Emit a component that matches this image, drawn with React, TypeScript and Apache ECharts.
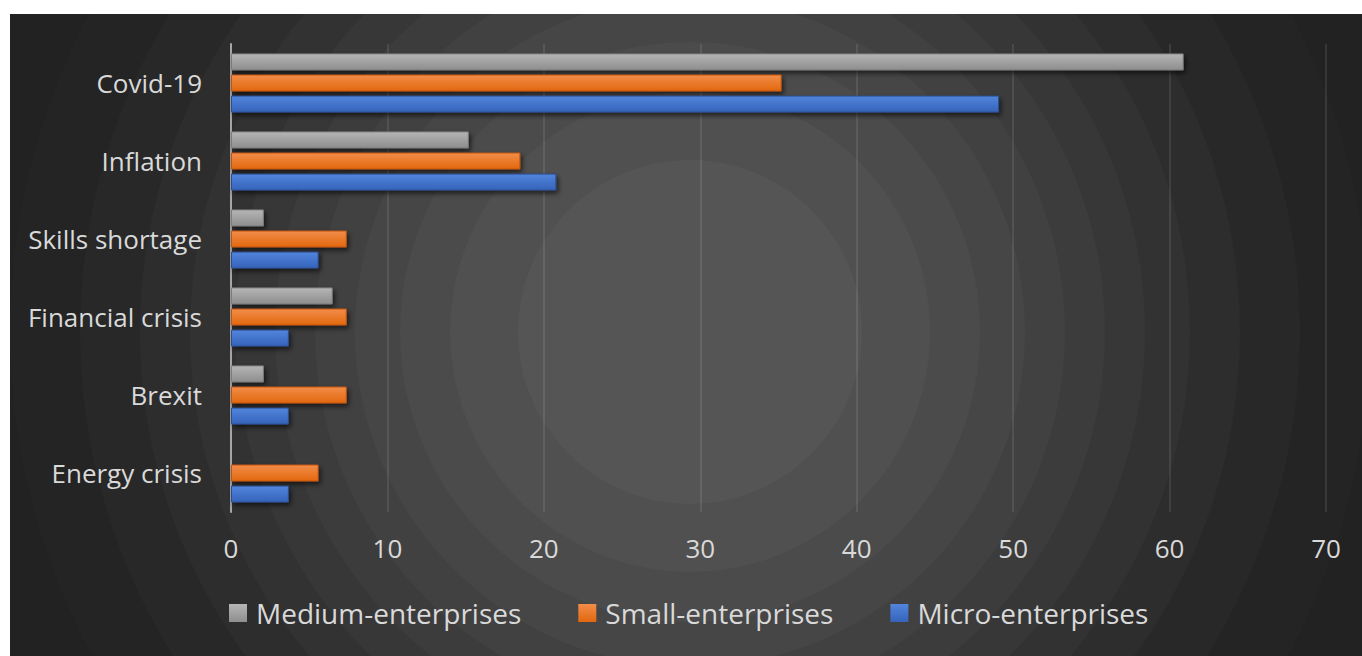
import React, { useEffect, useRef } from "react";
import * as echarts from "echarts";

const categories = ["Covid-19", "Inflation", "Skills shortage", "Financial crisis", "Brexit", "Energy crisis"];
const seriesNames = ["Medium-enterprises", "Small-enterprises", "Micro-enterprises"];
const mediumValues = [60.9, 15.2, 2.1, 6.5, 2.1, 0];
const smallValues = [35.2, 18.5, 7.4, 7.4, 7.4, 5.6];
const microValues = [49.1, 20.8, 5.6, 3.7, 3.7, 3.7];
const xTicks = { min: 0, max: 70, interval: 10 };

const FONT = "'Open Sans', 'Noto Sans', sans-serif";
const TEXT = "#d9d9d9";

const ringRadii = [720, 680, 610, 550, 500, 455, 415, 375, 335, 290, 240, 172];
const ringLevels = [34, 36, 40, 45, 50, 55, 60, 65, 70, 75, 80, 85];

function grey(v: number) {
  const h = v.toString(16).padStart(2, "0");
  return "#" + h + h + h;
}

function grad(top: string, bottom: string) {
  return new echarts.graphic.LinearGradient(0, 0, 0, 1, [
    { offset: 0, color: top },
    { offset: 1, color: bottom },
  ]);
}

export default function App() {
  const ref = useRef<HTMLDivElement>(null);
  useEffect(() => {
    if (!ref.current) return;
    const chart = echarts.init(ref.current, undefined, { renderer: "svg" });
    const cx = 680;
    const cy = 318;
    const rings: any[] = [
      { type: "rect", shape: { x: 0, y: 0, width: 1352, height: 642 }, style: { fill: "#222222" }, z: -20, silent: true },
    ];
    ringRadii.forEach((r, i) => {
      rings.push({
        type: "circle",
        shape: { cx, cy, r },
        style: { fill: grey(ringLevels[i]) },
        z: -19 + i,
        silent: true,
      });
    });
    const styles = [
      { top: "#b5b5b5", bottom: "#8e8e8e", border: "#7d7d7d" },
      { top: "#f28d4a", bottom: "#e2670f", border: "#c05510" },
      { top: "#5285dc", bottom: "#3563ba", border: "#2c4f90" },
    ];
    const data = [mediumValues, smallValues, microValues];
    chart.setOption({
      animation: false,
      backgroundColor: "#222222",
      graphic: { elements: rings },
      grid: { left: 221, right: 36, top: 30, bottom: 144, containLabel: false },
      legend: {
        data: seriesNames,
        left: 219,
        top: 584,
        padding: 0,
        itemWidth: 18,
        itemHeight: 18,
        itemGap: 57,
        icon: "rect",
        itemStyle: { borderWidth: 0, shadowBlur: 0, shadowOffsetX: 0, shadowOffsetY: 0, shadowColor: "transparent" },
        textStyle: { color: TEXT, fontSize: 28, fontFamily: FONT, padding: [0, 0, 0, 4], lineHeight: 30 },
      },
      xAxis: {
        type: "value",
        min: xTicks.min,
        max: xTicks.max,
        interval: xTicks.interval,
        axisLine: { show: false },
        axisTick: { show: false },
        axisLabel: { color: TEXT, fontSize: 26, fontFamily: FONT, margin: 23 },
        splitLine: { lineStyle: { color: "rgba(255,255,255,0.13)", width: 1.5 } },
      },
      yAxis: {
        type: "category",
        data: categories,
        inverse: true,
        axisLine: { show: true, lineStyle: { color: "#a6a6a6", width: 2 } },
        axisTick: { show: false },
        axisLabel: { color: TEXT, fontSize: 26, fontFamily: FONT, margin: 29 },
        splitLine: { show: false },
      },
      series: seriesNames.map((name, i) => ({
        name,
        type: "bar",
        data: data[i],
        barWidth: 17,
        barGap: "24%",
        itemStyle: {
          color: grad(styles[i].top, styles[i].bottom),
          borderColor: styles[i].border,
          borderWidth: 1,
          shadowColor: "rgba(0,0,0,0.6)",
          shadowBlur: 5,
          shadowOffsetX: 2,
          shadowOffsetY: 3,
        },
      })),
    });
    return () => chart.dispose();
  }, []);
  return (
    <div style={{ position: "absolute", left: 0, top: 0, width: 1362, height: 656, background: "#ffffff" }}>
      <div ref={ref} style={{ position: "absolute", left: 10, top: 14, width: 1352, height: 642 }} />
    </div>
  );
}
